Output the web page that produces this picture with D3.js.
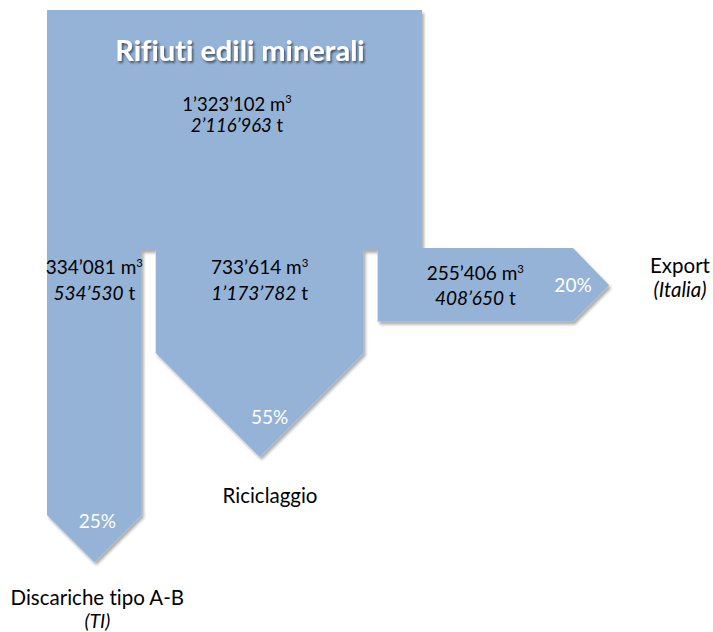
<!DOCTYPE html>
<html>
<head>
<meta charset="utf-8">
<script src="https://cdn.jsdelivr.net/npm/d3@7"></script>
<style>
  html, body { margin: 0; padding: 0; background: #ffffff; }
  svg { display: block; }
  text { font-family: Lato, "Open Sans", sans-serif; font-variant-ligatures: none; }
</style>
</head>
<body>
<svg id="chart" width="713" height="632"></svg>
<script>
// Source stock
const sourceName = "Rifiuti edili minerali";
const sourceVolume = 1323102;   // m³
const sourceTonnes = 2116963;   // t

// Destinations of the flows
const categories = ["Discariche tipo A-B", "Riciclaggio", "Export"];
const subLabels = ["(TI)", "", "(Italia)"];
const volumes = [334081, 733614, 255406];      // m³
const tonnes = [534530, 1173782, 408650];      // t
const shares = [25, 55, 20];                   // %

const svg = d3.select("#chart");
const fill = "#95b3d7";

const fmt = v => d3.format(",")(v).replace(/,/g, "\u2019");

// Width of a flow band is proportional to its volume
const w = d3.scaleLinear().domain([0, sourceVolume]).range([0, 375]);

const defs = svg.append("defs");
const sh = defs.append("filter").attr("id", "shadow")
  .attr("x", "-10%").attr("y", "-10%").attr("width", "130%").attr("height", "130%");
sh.append("feDropShadow").attr("dx", 2).attr("dy", 3).attr("stdDeviation", 1.8)
  .attr("flood-color", "#000").attr("flood-opacity", 0.32);
const tsh = defs.append("filter").attr("id", "textShadow")
  .attr("x", "-10%").attr("y", "-30%").attr("width", "130%").attr("height", "170%");
tsh.append("feDropShadow").attr("dx", 1.5).attr("dy", 2).attr("stdDeviation", 1.2)
  .attr("flood-color", "#000").attr("flood-opacity", 0.55);

// Layout
const x0 = 47, topY = 10, blockBottom = 249, gap = 14;
const downEnd = [515, 353];     // where the vertical bands turn into arrow heads
const sideEnd = 573;            // where the horizontal band turns into an arrow head

const blockW = w(sourceVolume);
const colX = [x0, x0 + w(volumes[0]) + gap];
const sideX = colX[1] + w(volumes[1]) + gap;

const shapes = svg.append("g").attr("filter", "url(#shadow)").attr("fill", fill);

// Main block
shapes.append("rect").attr("x", x0).attr("y", topY)
  .attr("width", blockW).attr("height", blockBottom - topY + 1);

// Downward bands with arrow heads
[0, 1].forEach(i => {
  const a = colX[i], b = a + w(volumes[i]), m = (a + b) / 2, h = (b - a) / 2;
  const p = d3.path();
  p.moveTo(a, blockBottom - 1);
  p.lineTo(b, blockBottom - 1);
  p.lineTo(b, downEnd[i]);
  p.lineTo(m, downEnd[i] + h);
  p.lineTo(a, downEnd[i]);
  p.closePath();
  shapes.append("path").attr("d", p.toString());
});

// Sideways band with arrow head
{
  const y1 = blockBottom, y2 = blockBottom + w(volumes[2]), m = (y1 + y2) / 2, h = (y2 - y1) / 2;
  const p = d3.path();
  p.moveTo(sideX, y1 - 1);
  p.lineTo(sideEnd, y1 - 1);
  p.lineTo(sideEnd + h, m);
  p.lineTo(sideEnd, y2);
  p.lineTo(sideX, y2);
  p.closePath();
  shapes.append("path").attr("d", p.toString());
}

// Two-line value label: volume in m³, tonnes in italics
function valueLabel(cx, y, vol, t, size, lh) {
  const g = svg.append("g").attr("fill", "#000").attr("font-size", size).attr("text-anchor", "middle");
  const l1 = g.append("text").attr("x", cx).attr("y", y);
  l1.append("tspan").text(fmt(vol) + " m");
  l1.append("tspan").text("3").attr("font-size", size * 0.6).attr("dy", -size * 0.38);
  const l2 = g.append("text").attr("x", cx).attr("y", y + lh);
  l2.append("tspan").text(fmt(t)).attr("font-style", "italic");
  l2.append("tspan").text(" t");
}

// Title and totals
svg.append("text").attr("x", 240).attr("y", 61).attr("text-anchor", "middle")
  .attr("font-size", 29).attr("font-weight", 700).attr("fill", "#fff")
  .attr("filter", "url(#textShadow)").text(sourceName);
valueLabel(237, 110.5, sourceVolume, sourceTonnes, 18.5, 21.5);

// Flow values
const colMid = i => colX[i] + w(volumes[i]) / 2;
valueLabel(colMid(0), 274, volumes[0], tonnes[0], 19, 26);
valueLabel(colMid(1), 274, volumes[1], tonnes[1], 19, 26);
valueLabel((sideX + sideEnd) / 2, 280, volumes[2], tonnes[2], 19, 25);

// Shares inside the arrow heads
const pct = svg.append("g").attr("fill", "#fff").attr("font-size", 19).attr("text-anchor", "middle");
pct.append("text").attr("x", colMid(0) + 3).attr("y", downEnd[0] + 13).text(shares[0] + "%");
pct.append("text").attr("x", colMid(1) + 10).attr("y", downEnd[1] + 71).text(shares[1] + "%");
pct.append("text").attr("x", sideEnd).attr("y", blockBottom + w(volumes[2]) / 2 + 7).text(shares[2] + "%");

// Destination names
const names = svg.append("g").attr("fill", "#000").attr("font-size", 20.5).attr("text-anchor", "middle");
names.append("text").attr("x", colMid(0) + 3).attr("y", 605).text(categories[0]);
names.append("text").attr("x", colMid(0) + 3).attr("y", 627.5).attr("font-style", "italic").attr("font-size", 19.5).text(subLabels[0]);
names.append("text").attr("x", 270).attr("y", 503).text(categories[1]);
names.append("text").attr("x", 680).attr("y", 272.5).text(categories[2]);
names.append("text").attr("x", 680).attr("y", 296.5).attr("font-style", "italic").text(subLabels[2]);
</script>
</body>
</html>
